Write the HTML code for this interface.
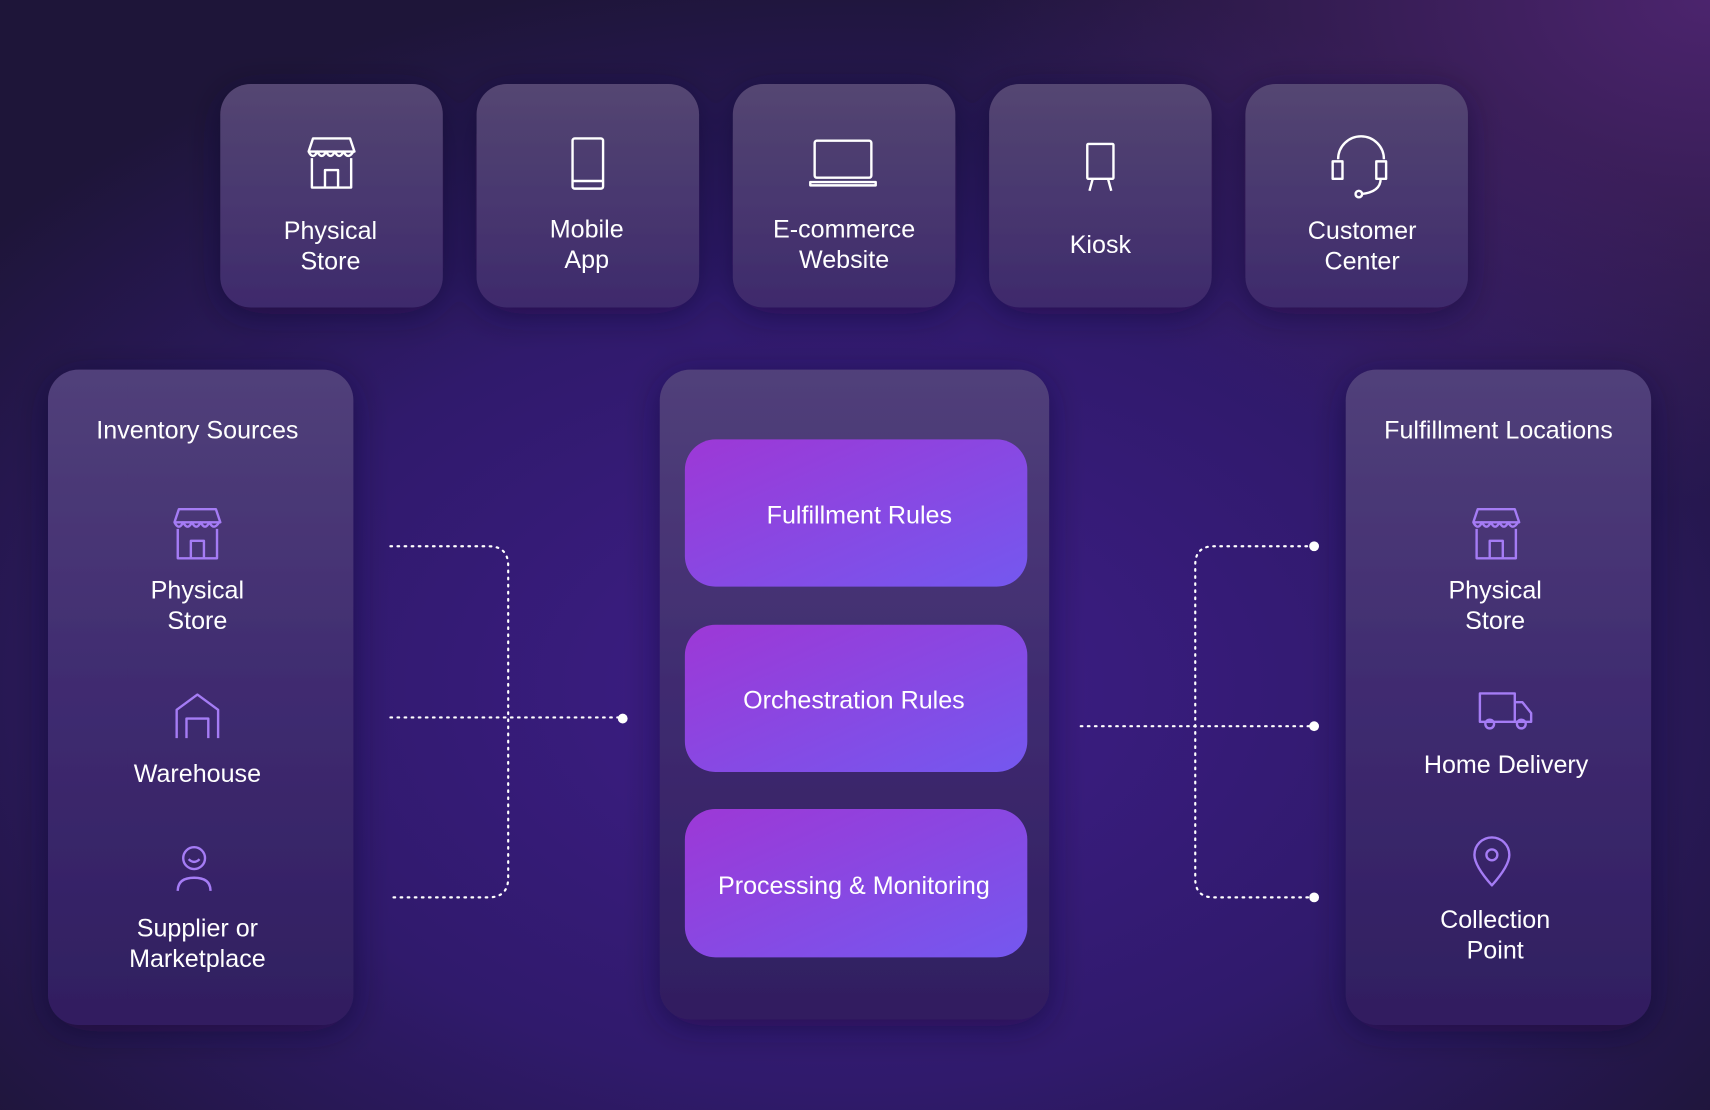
<!DOCTYPE html>
<html><head><meta charset="utf-8"><style>
html,body{margin:0;padding:0;width:1710px;height:1110px;overflow:hidden;background:#241545}
svg{display:block}
text{font-family:"Liberation Sans",sans-serif;fill:#fff;font-size:23px;text-anchor:middle}
</style></head><body>
<svg width="1710" height="1110" viewBox="0 0 1568 1018" preserveAspectRatio="none">
<defs>
<radialGradient id="bg1" cx="0.5" cy="0.62" r="0.65">
<stop offset="0" stop-color="#3e1d88"/><stop offset="0.55" stop-color="#301a6c"/><stop offset="1" stop-color="#1e1539"/>
</radialGradient>
<radialGradient id="bg2" cx="1" cy="0" r="0.45">
<stop offset="0" stop-color="#6a2e90" stop-opacity="0.6"/><stop offset="1" stop-color="#6a2e90" stop-opacity="0"/>
</radialGradient>
<linearGradient id="card" x1="0" y1="0" x2="0" y2="1">
<stop offset="0" stop-color="#544672"/><stop offset="1" stop-color="#3e2a6c"/>
</linearGradient>
<linearGradient id="panel" x1="0" y1="0" x2="0" y2="1">
<stop offset="0" stop-color="#51407a"/><stop offset="0.5" stop-color="#3f2b70"/><stop offset="1" stop-color="#301e60"/>
</linearGradient>
<linearGradient id="btn" x1="0" y1="0" x2="1" y2="1">
<stop offset="0" stop-color="#9d38d6"/><stop offset="1" stop-color="#7458ef"/>
</linearGradient>
<filter id="sh" x="-30%" y="-30%" width="160%" height="160%"><feDropShadow dx="0" dy="6" stdDeviation="16" flood-color="#140a2c" flood-opacity="0.45"/></filter>
</defs>
<rect width="1568" height="1018" fill="url(#bg1)"/>
<rect width="1568" height="1018" fill="url(#bg2)"/>

<g filter="url(#sh)">
<rect x="202" y="77" width="204" height="205" rx="28" fill="url(#card)"/>
<rect x="437" y="77" width="204" height="205" rx="28" fill="url(#card)"/>
<rect x="672" y="77" width="204" height="205" rx="28" fill="url(#card)"/>
<rect x="907" y="77" width="204" height="205" rx="28" fill="url(#card)"/>
<rect x="1142" y="77" width="204" height="205" rx="28" fill="url(#card)"/>
<rect x="44" y="339" width="280" height="601" rx="28" fill="url(#panel)"/>
<rect x="605" y="339" width="357" height="596" rx="28" fill="url(#panel)"/>
<rect x="1234" y="339" width="280" height="601" rx="28" fill="url(#panel)"/>
</g>

<g fill="none" stroke="#fff" stroke-width="2.2" stroke-linejoin="round">
<path d="M287 127h34l4 12h-42z M283 139 q4 8 8 0 q4 8 8 0 q4 8 8 0 q4 8 8 0 q4 8 9 0 M286 145v27h36v-27 M298 172v-16h12v16"/>
<rect x="525" y="127" width="28" height="46" rx="2"/><line x1="525" y1="166" x2="553" y2="166"/>
<rect x="747" y="129" width="52" height="34" rx="2"/><path d="M743 167h60v3h-60z"/>
<rect x="997" y="132" width="24" height="32" rx="1"/><path d="M1002 164l-3 11 M1016 164l3 11"/>
<path d="M1227 146a21 21 0 0 1 42 0 M1222 148h9v16h-9z M1262 148h9v16h-9z M1266 164q0 12 -18 14"/><circle cx="1246" cy="178" r="3"/>
</g>
<text x="303" y="219">Physical</text><text x="303" y="247">Store</text>
<text x="538" y="218">Mobile</text><text x="538" y="246">App</text>
<text x="774" y="218">E-commerce</text><text x="774" y="246">Website</text>
<text x="1009" y="232">Kiosk</text>
<text x="1249" y="219">Customer</text><text x="1249" y="247">Center</text>

<text x="181" y="402">Inventory Sources</text>
<g fill="none" stroke="#a57cf5" stroke-width="2.2" stroke-linejoin="round">
<path d="M164 467h34l4 12h-42z M160 479 q4 8 8 0 q4 8 8 0 q4 8 8 0 q4 8 8 0 q4 8 9 0 M163 485v27h36v-27 M175 512v-16h12v16"/>
<path d="M162 677v-26l19-14 19 14v26 M171 677v-18h20v18"/>
<circle cx="178" cy="787" r="10"/><path d="M173 788q5 5 10 0 M163 817q0-12 15-12q15 0 15 12"/>
</g>
<text x="181" y="549">Physical</text><text x="181" y="577">Store</text>
<text x="181" y="717">Warehouse</text>
<text x="181" y="859">Supplier or</text><text x="181" y="887">Marketplace</text>

<rect x="628" y="403" width="314" height="135" rx="28" fill="url(#btn)"/>
<rect x="628" y="573" width="314" height="135" rx="28" fill="url(#btn)"/>
<rect x="628" y="742" width="314" height="136" rx="28" fill="url(#btn)"/>
<text x="788" y="480">Fulfillment Rules</text>
<text x="783" y="650">Orchestration Rules</text>
<text x="783" y="820">Processing &amp; Monitoring</text>

<text x="1374" y="402">Fulfillment Locations</text>
<g fill="none" stroke="#a57cf5" stroke-width="2.2" stroke-linejoin="round">
<path d="M1355 467h34l4 12h-42z M1351 479 q4 8 8 0 q4 8 8 0 q4 8 8 0 q4 8 8 0 q4 8 9 0 M1354 485v27h36v-27 M1366 512v-16h12v16"/>
<path d="M1357 662v-26h32v26z M1389 644h7l8 10v8h-15 M1357 662h47"/><circle cx="1366" cy="664" r="4"/><circle cx="1395" cy="664" r="4"/>
<path d="M1368 812q-16-18-16-28a16 16 0 0 1 32 0q0 10-16 28z"/><circle cx="1368" cy="784" r="5"/>
</g>
<text x="1371" y="549">Physical</text><text x="1371" y="577">Store</text>
<text x="1381" y="709">Home Delivery</text>
<text x="1371" y="851">Collection</text><text x="1371" y="879">Point</text>

<g fill="none" stroke="#fff" stroke-width="2" stroke-dasharray="1.5 5" stroke-linecap="round">
<path d="M358 501h90q18 0 18 18v286q0 18-18 18h-90"/>
<path d="M358 658h213"/>
<path d="M1205 501h-92q-17 0-17 17v288q0 17 17 17h92"/>
<path d="M991 666h214"/>
</g>
<g fill="#fff"><circle cx="571" cy="659" r="4.5"/><circle cx="1205" cy="501" r="4.5"/><circle cx="1205" cy="666" r="4.5"/><circle cx="1205" cy="823" r="4.5"/></g>
</svg>
</body></html>
